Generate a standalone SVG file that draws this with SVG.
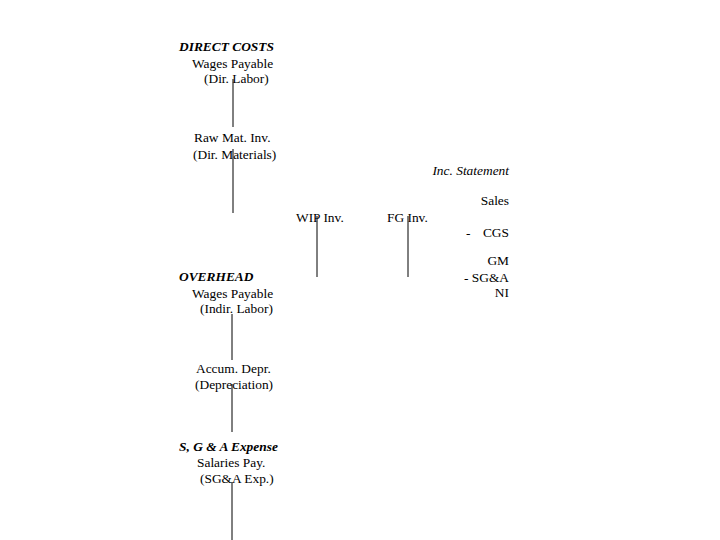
<svg xmlns="http://www.w3.org/2000/svg" width="720" height="540" viewBox="0 0 720 540">
<style>
text{font-family:"Liberation Serif","Times New Roman",serif;font-size:13.4px;fill:#000}
.h{font-weight:bold;font-style:italic}
.i{font-style:italic}
.r{text-anchor:end}
line{stroke:#000;stroke-width:1}
</style>
<rect width="720" height="540" fill="#fff"/>
<g id="direct-costs">
<text class="h" x="179" y="51">DIRECT COSTS</text>
<text x="192" y="68">Wages Payable</text>
<text x="204" y="83">(Dir. Labor)</text>
</g>
<g id="raw-mat">
<text x="194" y="142">Raw Mat. Inv.</text>
<text x="193" y="159">(Dir. Materials)</text>
</g>
<g id="wip"><text x="296" y="222">WIP Inv.</text></g>
<g id="fg"><text x="387" y="222">FG Inv.</text></g>
<g id="income-statement">
<text class="i r" x="509" y="175">Inc. Statement</text>
<text class="r" x="509" y="205">Sales</text>
<text x="466" y="237">-</text>
<text class="r" x="509" y="237">CGS</text>
<text class="r" x="509" y="265">GM</text>
<text class="r" x="509" y="282">- SG&amp;A</text>
<text class="r" x="509" y="297">NI</text>
</g>
<g id="overhead">
<text class="h" x="179" y="281">OVERHEAD</text>
<text x="192" y="298">Wages Payable</text>
<text x="200" y="313">(Indir. Labor)</text>
</g>
<g id="accum-depr">
<text x="196" y="373">Accum. Depr.</text>
<text x="195" y="389">(Depreciation)</text>
</g>
<g id="sga">
<text class="h" x="179" y="451">S, G &amp; A Expense</text>
<text x="197" y="467">Salaries Pay.</text>
<text x="200" y="483">(SG&amp;A Exp.)</text>
</g>
<g id="connectors">
<line x1="233" y1="79" x2="233" y2="127"/>
<line x1="233" y1="149" x2="233" y2="213"/>
<line x1="317" y1="216" x2="317" y2="277"/>
<line x1="408" y1="216" x2="408" y2="277"/>
<line x1="232" y1="314" x2="232" y2="360"/>
<line x1="232" y1="384" x2="232" y2="432"/>
<line x1="232" y1="482" x2="232" y2="540"/>
</g>
</svg>
